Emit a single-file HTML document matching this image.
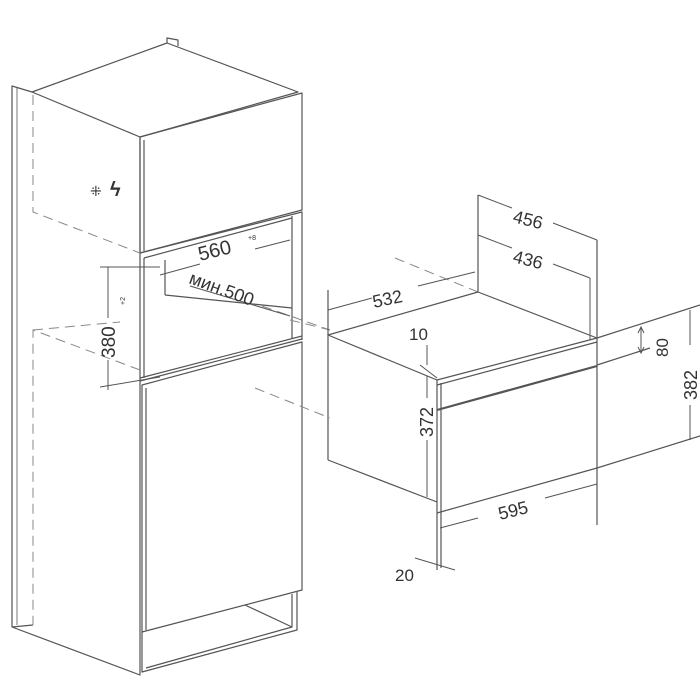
<!DOCTYPE html>
<html><head><style>
html,body{margin:0;padding:0;background:#fff;}
svg{display:block;}
text{font-family:"Liberation Sans",sans-serif;fill:#333;}
</style></head><body>
<svg width="700" height="700" viewBox="0 0 700 700" xmlns="http://www.w3.org/2000/svg">
<g fill="none" stroke="#555" stroke-width="1.2" stroke-linejoin="round">
<polyline points="32,92 12,86 12,627 140,675 140,137"/>
<line x1="17" y1="88" x2="17" y2="625" stroke-width="0.8"/>
<line x1="12" y1="627" x2="33" y2="625"/>
<polyline points="32,92 167,43 298,92 140,137 32,92"/>
<polyline points="167,43 167,38 178,40 178,46"/>
<polygon points="140,137 302,93 302,210 140,253"/>
<line x1="144" y1="140" x2="144" y2="251"/>
<polyline points="140,253 302,212 302,340"/>
<line x1="292" y1="216" x2="292" y2="338"/>
<line x1="144" y1="258" x2="292" y2="218"/>
<line x1="165" y1="260" x2="165" y2="295"/>
<line x1="165" y1="295" x2="292" y2="308"/>
<line x1="140" y1="378" x2="302" y2="336"/>
<line x1="144" y1="258" x2="144" y2="378"/>
<polygon points="142,385 302,342 302,590 142,632"/>
<line x1="140" y1="381" x2="302" y2="339"/>
<line x1="146" y1="388" x2="146" y2="630"/>
<polyline points="142,632 142,672 297,630 297,592"/>
<polyline points="146,668 292,627 292,594"/>
<line x1="245" y1="605" x2="292" y2="627"/>
</g>
<g fill="none" stroke="#888" stroke-width="1" stroke-dasharray="10,6">
<polyline points="33,95 33,212 140,253"/>
<polyline points="140,370 33,330 33,625"/>
<line x1="33" y1="330" x2="120" y2="322"/>
<line x1="255" y1="388" x2="330" y2="418"/>
<line x1="262" y1="306" x2="330" y2="330"/>
<line x1="290" y1="320" x2="330" y2="330"/>
<line x1="395" y1="258" x2="478" y2="292"/>
</g>
<g fill="none" stroke="#555" stroke-width="1">
<line x1="160" y1="275" x2="200" y2="264"/>
<line x1="255" y1="249" x2="290" y2="240"/>
<line x1="100" y1="267" x2="160" y2="267"/>
<line x1="100" y1="387" x2="160" y2="377"/>
<line x1="108" y1="267" x2="108" y2="318"/>
<line x1="108" y1="360" x2="108" y2="390"/>
<line x1="190" y1="286" x2="290" y2="316"/>
</g>
<text x="200" y="261" font-size="20" transform="rotate(-14 200 261)">560</text>
<text x="248" y="240" font-size="7">+8</text>
<text x="115" y="358" font-size="19" transform="rotate(-90 115 358)">380</text>
<text x="125" y="305" font-size="7" transform="rotate(-90 125 305)">+2</text>
<text x="188" y="283" font-size="18" transform="rotate(20 188 283)">мин.500</text>
<text x="90" y="196" font-size="14">⁜</text>
<text x="110" y="196" font-size="20" font-weight="bold" fill="#444">ϟ</text>
<g fill="none" stroke="#555" stroke-width="1.2" stroke-linejoin="round">
<polyline points="478,195 478,292 328,335 437,380"/>
<line x1="478" y1="292" x2="597" y2="338"/>
<line x1="597" y1="240" x2="597" y2="525"/>
<line x1="328" y1="290" x2="328" y2="460"/>
<line x1="328" y1="460" x2="437" y2="502"/>
<line x1="437" y1="380" x2="597" y2="338"/>
<line x1="437" y1="385" x2="597" y2="342"/>
<line x1="437" y1="380" x2="437" y2="570"/>
<line x1="441" y1="383" x2="441" y2="568"/>
<line x1="437" y1="410" x2="597" y2="366" stroke-width="2.2"/>
<line x1="437" y1="513" x2="597" y2="468"/>
<line x1="597" y1="338" x2="700" y2="305"/>
<line x1="597" y1="365" x2="650" y2="348"/>
<line x1="597" y1="468" x2="700" y2="436"/>
</g>
<g fill="none" stroke="#555" stroke-width="1">
<line x1="478" y1="195" x2="512" y2="208"/><line x1="553" y1="223" x2="597" y2="240"/>
<line x1="478" y1="235" x2="512" y2="248"/><line x1="553" y1="264" x2="590" y2="278"/>
<line x1="590" y1="278" x2="590" y2="340"/>
<line x1="328" y1="310" x2="372" y2="298"/><line x1="418" y1="286" x2="475" y2="272"/>
<line x1="427" y1="345" x2="427" y2="365"/>
<line x1="420" y1="365" x2="437" y2="378"/>
<line x1="427" y1="376" x2="427" y2="398"/><line x1="427" y1="440" x2="427" y2="497"/>
<line x1="440" y1="528" x2="478" y2="518"/><line x1="545" y1="498" x2="597" y2="484"/>
<line x1="415" y1="558" x2="455" y2="570"/>
<line x1="641" y1="328" x2="641" y2="352"/>
<polyline points="638,333 641,327 644,333"/><polyline points="638,347 641,353 644,347"/>
<line x1="690" y1="310" x2="690" y2="345"/><line x1="690" y1="405" x2="690" y2="440"/>
</g>
<text x="512" y="222" font-size="18" transform="rotate(14 512 222)">456</text>
<text x="512" y="262" font-size="18" transform="rotate(14 512 262)">436</text>
<text x="374" y="308" font-size="18" transform="rotate(-12 374 308)">532</text>
<text x="409" y="340" font-size="17">10</text>
<text x="433" y="437" font-size="18" transform="rotate(-90 433 437)">372</text>
<text x="500" y="520" font-size="18" transform="rotate(-14 500 520)">595</text>
<text x="395" y="581" font-size="17">20</text>
<text x="668" y="357" font-size="17" transform="rotate(-90 668 357)">80</text>
<text x="697" y="400" font-size="18" transform="rotate(-90 697 400)">382</text>
</svg>
</body></html>
